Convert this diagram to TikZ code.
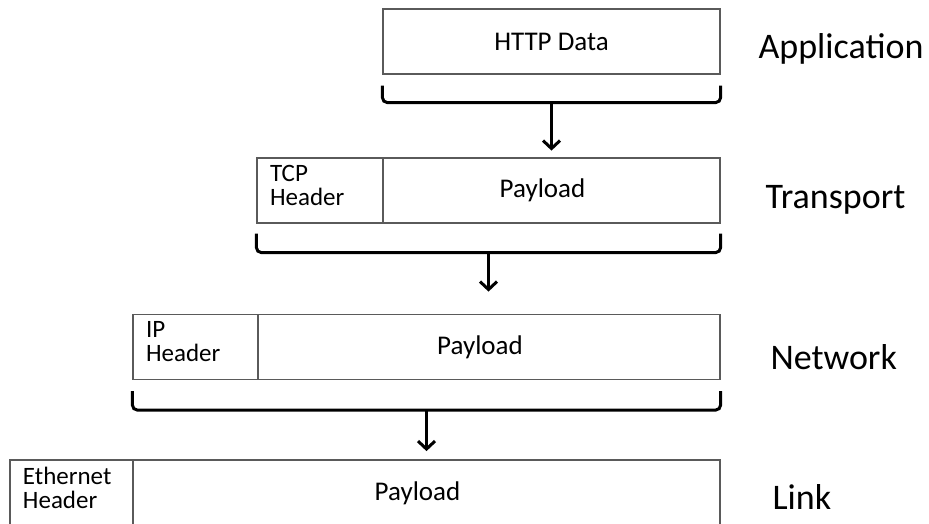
\documentclass[tikz,border=0pt]{standalone}
\usepackage{fontspec}
\setmainfont{Carlito}
\usepackage{tikz}
\usetikzlibrary{arrows.meta, calc}
\definecolor{boxline}{HTML}{5A5A5A}
\tikzset{
  pkt/.style={
    draw=boxline, line width=1.2pt,
    minimum height=65pt, inner sep=0pt,
    font=\fontsize{27}{27}\selectfont
  },
  payload/.style={pkt, execute at begin node={\hspace*{-18pt}}},
  hdr/.style={
    pkt, align=left, inner xsep=13pt,
    font=\fontsize{25}{24}\selectfont,
    execute at end node={\par\vspace*{10pt}}
  },
  layer/.style={anchor=west, font=\fontsize{36}{36}\selectfont},
  brace/.style={line width=3pt, rounded corners=5pt},
  down/.style={-{Straight Barb[length=8pt, width=17pt]}, line width=3pt}
}

\begin{document}
\begin{tikzpicture}[x=1pt, y=-1pt]
  \clip (0,0) rectangle (929,523);

  % ====== APPLICATION ======
  \node[pkt, minimum width=337pt] (http) at (551.5, 41.5) {HTTP Data};
  \node[layer] (lapp) at (755, 49) {Application};

  % ====== TRANSPORT ======
  \node[hdr, minimum width=126pt, text width=100pt] (tcph) at (320, 190.5) {TCP\\Header};
  \node[payload, minimum width=337pt] (tcpp) at (551.5, 190.5) {Payload};
  \node[layer] (ltra) at (762, 200) {Transport};

  % ====== NETWORK ======
  \node[hdr, minimum width=125pt, text width=99pt] (iph) at (195.5, 347) {IP\\Header};
  \node[payload, minimum width=462pt] (ipp) at (489, 347) {Payload};
  \node[layer] (lnet) at (767, 357) {Network};

  % ====== LINK (runs off the bottom) ======
  \node[hdr, minimum width=123pt, text width=97pt, minimum height=66pt] (ethh) at (71.5, 493) {Ethernet\\Header};
  \node[payload, minimum width=587pt, minimum height=66pt] (ethp) at (426.5, 493) {Payload};
  \node[layer] (llnk) at (769, 497) {Link};

  % ====== BRACES + ARROWS ======
  \coordinate (b1l) at ($(http.south west)+(0,11)$);
  \coordinate (b1r) at ($(http.south east)+(0,11)$);
  \coordinate (b1m) at ($(http.south)+(0,28)$);
  \coordinate (a1) at ($(b1m)+(0,48)$);
  \draw[brace] (b1l) |- (b1m) -| (b1r);
  \draw[down] (b1m) -- (a1);

  \coordinate (b2l) at ($(tcph.south west)+(0,10)$);
  \coordinate (b2r) at ($(tcpp.south east)+(0,10)$);
  \coordinate (b2m) at ($(tcph.south west)!0.5!(tcpp.south east)+(0,29)$);
  \coordinate (a2) at ($(b2m)+(0,39)$);
  \draw[brace] (b2l) |- (b2m) -| (b2r);
  \draw[down] (b2m) -- (a2);

  \coordinate (b3l) at ($(iph.south west)+(0,11)$);
  \coordinate (b3r) at ($(ipp.south east)+(0,11)$);
  \coordinate (b3m) at ($(iph.south west)!0.5!(ipp.south east)+(0,30)$);
  \coordinate (a3) at ($(b3m)+(0,41)$);
  \draw[brace] (b3l) |- (b3m) -| (b3r);
  \draw[down] (b3m) -- (a3);
\end{tikzpicture}
\end{document}
